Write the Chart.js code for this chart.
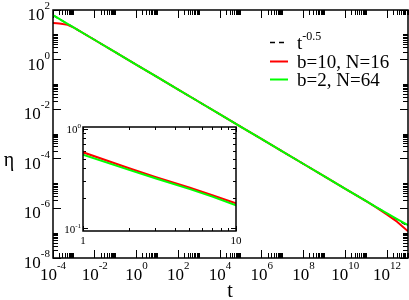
<!DOCTYPE html>
<html><head><meta charset="utf-8">
<script src="https://cdn.jsdelivr.net/npm/chart.js@4.4.1/dist/chart.umd.min.js"></script>
<style>
html,body{margin:0;padding:0;background:#fff;}
#wrap{position:relative;width:409px;height:300px;}
#main{position:absolute;left:0;top:0;}
#inset{position:absolute;left:60px;top:117px;}
</style></head><body>
<div id="wrap">
<canvas id="main" width="409" height="300"></canvas>
<canvas id="inset" width="190" height="135"></canvas>
</div>
<script>
// ---- data ----
const tMain = [1e-4,1.5e-4,2e-4,3e-4,5e-4,1e-3,1e-2,1e-1,1e0,1e1,1e2,1e3,1e4,1e5,1e6,1e7,1e8,1e9,1e10,1e11,3e11,1e12,3e12,1e13];
const etaGreen = [61.7,50.4,43.6,35.6,27.6,19.5,6.17,1.95,0.617,0.195,0.0617,0.0195,6.17e-3,1.95e-3,6.17e-4,1.95e-4,6.17e-5,1.95e-5,6.17e-6,1.95e-6,1.13e-6,6.3e-7,3.7e-7,2.1e-7];
const etaRed   = [30.0,29.5,28.5,27.0,25.5,19.5,6.17,1.95,0.617,0.195,0.0617,0.0195,6.17e-3,1.95e-3,6.17e-4,1.95e-4,6.17e-5,1.95e-5,6.17e-6,1.95e-6,1.10e-6,5.6e-7,2.9e-7,1.2e-7];
const tRef = [1e-4,1e13];
const etaRef = [61.7,1.95e-7];
const tInset = [1,2,3,5,7,10];
const etaInsetRed   = [0.585,0.405,0.330,0.258,0.217,0.180];
const etaInsetGreen = [0.555,0.390,0.320,0.250,0.210,0.172];
const mainXMajors = [-4,-2,0,2,4,6,8,10,12];
const mainYMajors = [-8,-6,-4,-2,0,2];
const insetXMajors = [0,1];
const insetYMajors = [-1,0];
const legendLabels = [["t","-0.5"],["b=10, N=16",""],["b=2, N=64",""]];
const RED = "#ff0000", GREEN = "#00ff00", BLACK = "#000000";

function pts(xs, ys){ return xs.map((x,i)=>({x:x,y:ys[i]})); }
const SERIF = '"Liberation Serif","DejaVu Serif",serif';

function drawPow(ctx, base, exp, x, y, align, fb, fs, raise){
  ctx.font = fb + "px " + SERIF;
  const wb = ctx.measureText(base).width;
  ctx.font = fs + "px " + SERIF;
  const we = exp ? ctx.measureText(exp).width : 0;
  const w = wb + we;
  let x0 = x;
  if (align === "center") x0 = x - w/2;
  else if (align === "right") x0 = x - w;
  ctx.textAlign = "left"; ctx.textBaseline = "alphabetic";
  ctx.font = fb + "px " + SERIF; ctx.fillText(base, x0, y);
  if (exp){ ctx.font = fs + "px " + SERIF; ctx.fillText(exp, x0 + wb, y - raise); }
}

function minorList(lo, hi, step){
  const out = [];
  for (let e = lo; e <= hi; e += step){
    for (let k = 2; k <= (step === 2 ? 10 : 9); k++) out.push(k*Math.pow(10,e));
  }
  return out;
}

// one tick-only axis built by Chart.js itself (ticks point inward via negative tickLength)
function tickAxis(position, axis, min, max, values, len){
  return {
    type: "logarithmic", axis: axis, position: position, min: min, max: max, display: true,
    afterBuildTicks: s => { s.ticks = values.map(v => ({ value: v })); },
    afterFit: s => { if (axis === "x") s.height = 0; else s.width = 0; },
    ticks: { display: false, autoSkip: false },
    grid: { display: true, drawOnChartArea: false, drawTicks: true, tickLength: -len, tickColor: "#000", tickWidth: 1 },
    border: { display: false }
  };
}

function buildScales(xmin, xmax, ymin, ymax, xMaj, xMin, yMaj, yMin, majLen, minLen){
  const xm = xMaj.map(e => Math.pow(10, e)), ym = yMaj.map(e => Math.pow(10, e));
  return {
    x:  tickAxis("bottom", "x", xmin, xmax, xm, majLen),
    x2: tickAxis("bottom", "x", xmin, xmax, xMin, minLen),
    x3: tickAxis("top", "x", xmin, xmax, xm, majLen),
    x4: tickAxis("top", "x", xmin, xmax, xMin, minLen),
    y:  tickAxis("left", "y", ymin, ymax, ym, majLen),
    y2: tickAxis("left", "y", ymin, ymax, yMin, minLen),
    y3: tickAxis("right", "y", ymin, ymax, ym, majLen),
    y4: tickAxis("right", "y", ymin, ymax, yMin, minLen)
  };
}

function makeFrame(id, cfg){
  return {
    id: id,
    afterDraw(chart){
      const ctx = chart.ctx, a = chart.chartArea;
      const xs = chart.scales.x, ys = chart.scales.y;
      const L = Math.round(a.left), R = Math.round(a.right), T = Math.round(a.top), B = Math.round(a.bottom);
      ctx.save();
      ctx.setLineDash([]);
      ctx.strokeStyle = "#000";
      ctx.lineWidth = cfg.frameLw;
      ctx.beginPath();
      ctx.rect(L, T, R - L, B - T);
      ctx.stroke();
      ctx.fillStyle = "#000";
      cfg.xMaj.forEach(e=>{
        const p = xs.getPixelForValue(Math.pow(10,e));
        const lab = cfg.xLab(e);
        drawPow(ctx, lab[0], lab[1], p, B + cfg.xLabOff, "center", cfg.fb, cfg.fs, cfg.raise);
      });
      cfg.yMaj.forEach(e=>{
        const p = ys.getPixelForValue(Math.pow(10,e));
        const lab = cfg.yLab(e);
        drawPow(ctx, lab[0], lab[1], L - cfg.yLabGap, p + cfg.yLabOff, "right", cfg.fb, cfg.fs, cfg.raise);
      });
      if (cfg.extra) cfg.extra(ctx, chart);
      ctx.restore();
    }
  };
}

const mainFrame = makeFrame("frameMain", {
  frameLw: 1.5,
  xMaj: mainXMajors, yMaj: mainYMajors,
  xLab: e=>["10", String(e)], yLab: e=>["10", String(e)],
  xLabOff: 22, yLabGap: 3, yLabOff: 10, fb: 17, fs: 11, raise: 11,
  extra: (ctx)=>{
    ctx.fillStyle = "#000";
    ctx.textAlign = "center"; ctx.textBaseline = "alphabetic";
    ctx.font = "20px " + SERIF;
    ctx.fillText("t", 230, 297);
    ctx.fillText("η", 9, 166);
    const rows = [42, 61, 79];
    const cols = [BLACK, RED, GREEN];
    rows.forEach((ry, i)=>{
      ctx.save();
      ctx.strokeStyle = cols[i]; ctx.lineWidth = i === 0 ? 1.5 : 2;
      if (i === 0) ctx.setLineDash([5,4]);
      ctx.beginPath(); ctx.moveTo(270, ry + 0.5); ctx.lineTo(288, ry + 0.5); ctx.stroke();
      ctx.restore();
      ctx.fillStyle = "#000";
      drawPow(ctx, legendLabels[i][0], legendLabels[i][1], 297, ry + 7, "left", 19, 12, 9);
    });
  }
});

const insetFrame = makeFrame("frameInset", {
  frameLw: 1.5,
  xMaj: insetXMajors, yMaj: insetYMajors,
  xLab: e=>[e === 0 ? "1" : "10", ""], yLab: e=>["10", String(e)],
  xLabOff: 13, yLabGap: 2, yLabOff: 4, fb: 11, fs: 7, raise: 5
});

new Chart(document.getElementById("main"), {
  type: "line",
  data: { datasets: [
    { data: pts(tMain, etaGreen), borderColor: GREEN, borderWidth: 2, order: 0 },
    { data: pts(tMain, etaRed), borderColor: RED, borderWidth: 2, order: 1 },
    { data: pts(tRef, etaRef), borderColor: BLACK, borderWidth: 1.5, borderDash: [5,4], order: 2 }
  ]},
  options: {
    responsive: false, animation: false, devicePixelRatio: 1,
    layout: { padding: { left: 53, top: 10, right: 1, bottom: 42 } },
    elements: { point: { radius: 0 }, line: { tension: 0 } },
    scales: buildScales(1e-4, 1e13, 1e-8, 1e2, mainXMajors, minorList(-4, 12, 2), mainYMajors, minorList(-8, 0, 2), 8, 5),
    plugins: { legend: { display: false }, tooltip: { enabled: false } }
  },
  plugins: [mainFrame]
});

new Chart(document.getElementById("inset"), {
  type: "line",
  data: { datasets: [
    { data: pts(tInset, etaInsetGreen), borderColor: GREEN, borderWidth: 2, order: 0 },
    { data: pts(tInset, etaInsetRed), borderColor: RED, borderWidth: 2, order: 1 }
  ]},
  options: {
    responsive: false, animation: false, devicePixelRatio: 1,
    layout: { padding: { left: 23, top: 10, right: 14, bottom: 21 } },
    elements: { point: { radius: 0 }, line: { tension: 0 } },
    scales: buildScales(1, 10, 0.095, 1.05, insetXMajors, [2,3,4,5,6,7,8,9], insetYMajors, [0.2,0.3,0.4,0.5,0.6,0.7,0.8,0.9], 5, 3),
    plugins: { legend: { display: false }, tooltip: { enabled: false } }
  },
  plugins: [insetFrame]
});
</script>
</body></html>
